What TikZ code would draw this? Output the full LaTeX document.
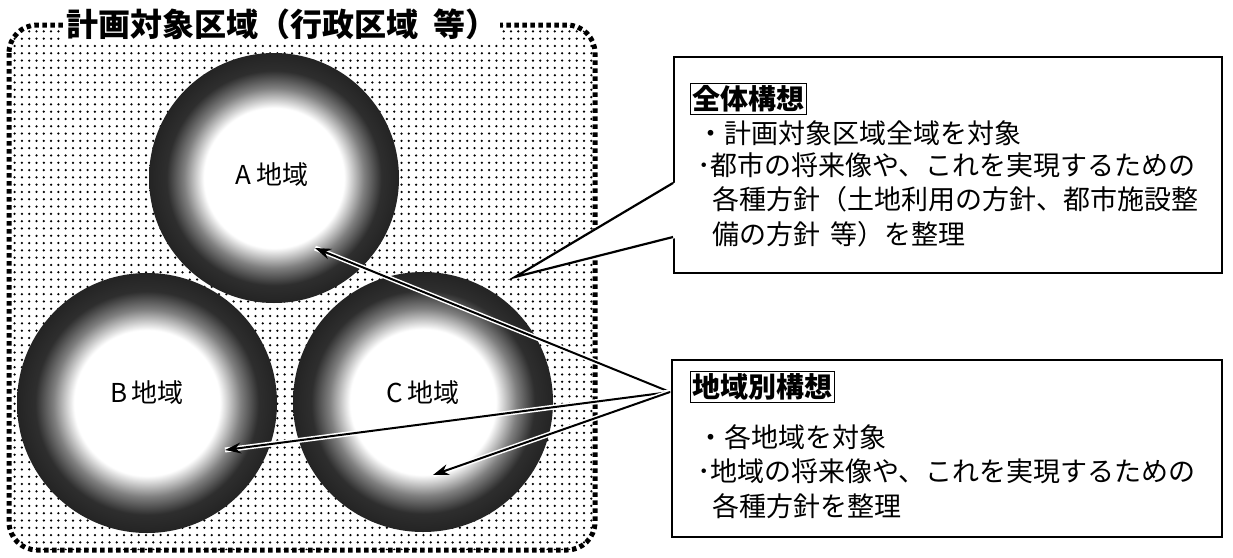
\documentclass[tikz,border=0pt]{standalone}
\usepackage{fontspec}
\setmainfont{Noto Sans CJK JP}
\usetikzlibrary{arrows.meta,patterns.meta,calc}
\pgfdeclareradialshading{ringshade}{\pgfpointorigin}{color(0bp)=(white); color(14bp)=(white); color(18bp)=(black!50); color(21.5bp)=(black!82); color(25bp)=(black!86); color(50bp)=(black!86)}
\begin{document}
\begin{tikzpicture}[x=1pt,y=-1pt,
  region/.style={circle, minimum size=#1, inner sep=0pt, shading=ringshade},
  lbl/.style={font=\fontsize{26}{26}\selectfont, inner sep=0pt},
  box/.style={draw, fill=white, line width=2pt, inner sep=0pt, anchor=north west},
  ttl/.style={draw, line width=1.3pt, inner sep=2pt, anchor=west, font=\bfseries\fontsize{28}{28}\selectfont},
  txt/.style={anchor=west, inner sep=0pt, font=\fontsize{27}{27}\selectfont},
  arr/.style={-{Stealth[length=16pt,width=11pt]}, line width=2pt, preaction={draw=white, line width=5pt, -}},
]
\useasboundingbox (0,0) rectangle (1233,557);
% planning area
\draw[line width=5pt, dash pattern=on 4.5pt off 3.5pt, rounded corners=28pt,
      pattern={Dots[distance=7.3pt, radius=1.25pt]}] (9,25) rectangle (595,550);
% regions
\node[region=250pt] (A) at (274,178) {};
\node[region=260pt] (B) at (147,403) {};
\node[region=260pt] (C) at (423,402) {};
\node[lbl] (la) at (272,175) {A\,地域};
\node[lbl] (lb) at (147,393) {B\,地域};
\node[lbl] (lc) at (423,393) {C\,地域};
% box 1 with callout
\node[box, minimum width=548pt, minimum height=216pt] (box1) at (673,56) {};
\coordinate (tip) at (515,277);
\coordinate (c1) at (673,183);
\coordinate (c2) at (673,237);
\fill[white] ($(c1)+(3,-1)$) -- (tip) -- ($(c2)+(3,1)$) -- cycle;
\draw[line width=2.2pt, line join=miter] (c1) -- (tip) -- (c2);
\node[ttl] (t1) at (690,99) {全体構想};
\node[txt] (l11) at (697,133) {・計画対象区域全域を対象};
\node[txt] (l12) at (697,165) {･都市の将来像や、これを実現するための};
\node[txt] (l13) at (712,199) {各種方針（土地利用の方針、都市施設整};
\node[txt] (l14) at (712,234) {備の方針\hspace{0.4em}等）を整理};
% box 2
\node[box, minimum width=550pt, minimum height=177pt] (box2) at (671,359) {};
\node[ttl] (t2) at (690,387) {地域別構想};
\node[txt] (l21) at (697,437) {・各地域を対象};
\node[txt] (l22) at (697,471) {･地域の将来像や、これを実現するための};
\node[txt] (l23) at (712,506) {各種方針を整理};
% arrows
\coordinate (hub) at (670,392);
\coordinate (tA) at (315,248);
\coordinate (tB) at (225,450);
\coordinate (tC) at (433,475);
\draw[arr] (hub) -- (tA);
\draw[arr] (hub) -- (tB);
\draw[arr] (hub) -- (tC);
% title
\node[font=\bfseries\fontsize{32}{32}\selectfont, fill=white, inner sep=3pt] (title) at (282,24) {計画対象区域（行政区域\hspace{0.45em}等）};
\end{tikzpicture}
\end{document}
